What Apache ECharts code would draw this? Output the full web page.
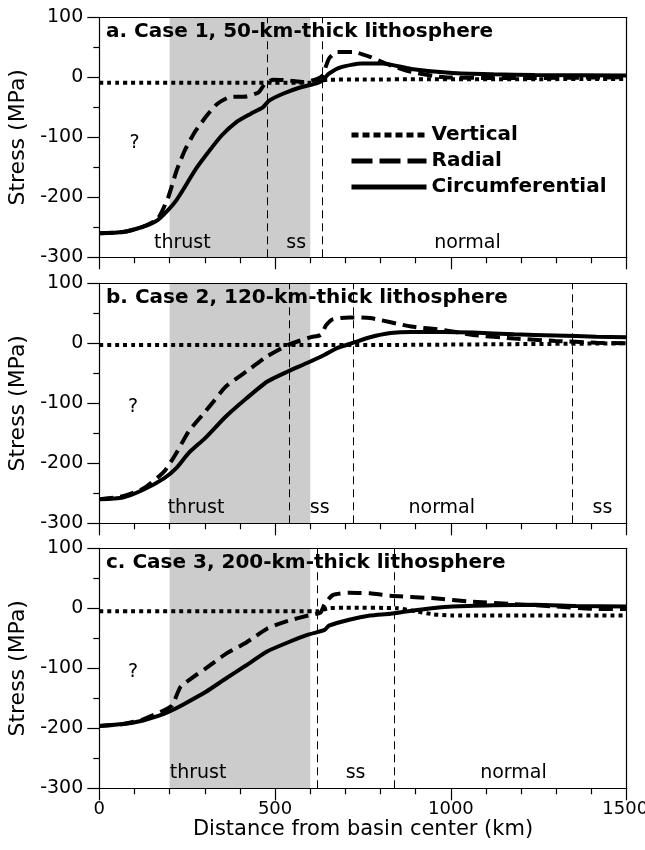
<!DOCTYPE html>
<html>
<head>
<meta charset="utf-8">
<script src="https://cdn.jsdelivr.net/npm/echarts@6/dist/echarts.min.js"></script>
<style>
html,body{margin:0;padding:0;background:#fff;}
#chart{width:645px;height:850px;}
</style>
</head>
<body>
<div id="chart"></div>
<script>
// ---------- DATA ----------
const panelTitles = ['a. Case 1, 50-km-thick lithosphere', 'b. Case 2, 120-km-thick lithosphere', 'c. Case 3, 200-km-thick lithosphere'];
const seriesNames = ['Vertical', 'Radial', 'Circumferential'];

// Panel a
const vertXa = [0, 600, 650, 1500];
const vertYa = [-9, -9, -4, -3];
const radXa = [0, 67, 125, 166, 196, 219, 243, 272, 307, 336, 371, 418, 453, 471, 495, 535, 582, 618, 635, 653, 676, 723, 770, 828, 887, 981, 1121, 1239, 1500];
const radYa = [-260, -258, -249, -236, -200, -157, -122, -91, -63, -44, -33, -32, -25, -11, -4, -5, -8, -3, 3, 31, 42, 42, 34, 20, 9, 0, -1, -1, 0];
const circXa = [0, 67, 125, 166, 196, 219, 243, 272, 307, 348, 389, 430, 465, 483, 524, 571, 618, 635, 653, 688, 746, 805, 887, 1004, 1121, 1239, 1500];
const circYa = [-260, -258, -249, -238, -221, -205, -183, -155, -127, -97, -75, -61, -50, -39, -27, -17, -10, -5, 6, 17, 23, 23, 14, 7, 5, 4, 3];

// Panel b
const vertXb = [0, 700, 1500];
const vertYb = [-3, -3, 0];
const radXb = [0, 67, 125, 184, 219, 254, 301, 325, 360, 418, 477, 536, 600, 630, 645, 664, 711, 770, 887, 981, 1063, 1180, 1297, 1414, 1500];
const radYb = [-260, -255, -242, -214, -183, -147, -114, -97, -72, -47, -22, -3, 10, 14, 30, 40, 43, 42, 28, 22, 14, 8, 4, 1, 0];
const circXb = [0, 67, 125, 184, 219, 254, 301, 360, 418, 477, 536, 594, 641, 676, 723, 770, 828, 887, 981, 1063, 1180, 1297, 1414, 1500];
const circYb = [-260, -257, -244, -225, -208, -183, -158, -122, -92, -64, -47, -32, -19, -8, 1, 10, 17, 19, 19, 18, 15, 13, 11, 10];

// Panel c
const vertXc = [0, 620, 650, 700, 850, 900, 950, 1000, 1500];
const vertYc = [-5, -5, 0, 1, 0, -5, -10, -12, -12];
const radXc = [0, 67, 125, 184, 207, 231, 266, 301, 360, 418, 477, 536, 594, 629, 641, 664, 711, 770, 828, 946, 1063, 1180, 1297, 1414, 1500];
const radYc = [-196, -193, -185, -170, -162, -131, -115, -101, -76, -57, -34, -21, -12, -7, 7, 22, 26, 25, 21, 17, 11, 7, 3, -1, -1];
const circXc = [0, 67, 125, 184, 207, 243, 301, 360, 418, 477, 536, 594, 641, 653, 711, 770, 828, 887, 946, 1004, 1121, 1239, 1356, 1500];
const circYc = [-196, -193, -187, -176, -170, -159, -140, -117, -95, -72, -57, -44, -36, -29, -19, -12, -9, -4, 0, 3, 5, 6, 4, 3];

// Shaded thrust zone (km) and regime boundaries (km)
const shadeRange = [200, 600];
const boundariesA = [478, 635];
const boundariesB = [539, 721, 1346];
const boundariesC = [620, 838];

// Regime labels: [text, km, MPa]
const zoneLabelsA = [['thrust', 236, -277], ['ss', 560, -277], ['normal', 1047, -277], ['?', 100, -109]];
const zoneLabelsB = [['thrust', 275, -275], ['ss', 627, -275], ['normal', 974, -275], ['ss', 1431, -275], ['?', 96, -106]];
const zoneLabelsC = [['thrust', 281, -275], ['ss', 729, -275], ['normal', 1178, -275], ['?', 96, -106]];

const yTicks = [-300, -200, -100, 0, 100];
const xTicks = [0, 500, 1000, 1500];

// ---------- CHART ----------
const FONT = 'DejaVu Sans';
const panels = [
  {vx: vertXa, vy: vertYa, rx: radXa, ry: radYa, cx: circXa, cy: circYa, b: boundariesA, z: zoneLabelsA},
  {vx: vertXb, vy: vertYb, rx: radXb, ry: radYb, cx: circXb, cy: circYb, b: boundariesB, z: zoneLabelsB},
  {vx: vertXc, vy: vertYc, rx: radXc, ry: radYc, cx: circXc, cy: circYc, b: boundariesC, z: zoneLabelsC}
];
const gridTops = [17.3, 283.3, 548.3];
const gridLeft = 99.3, gridWidth = 527.4, gridHeight = 240;
const pair = (xs, ys) => xs.map((x, i) => [x, ys[i]]);
const axisColor = '#000';
const xMax = xTicks[xTicks.length - 1];

const grids = [], xAxes = [], yAxes = [], series = [], titles = [];
panels.forEach((p, i) => {
  grids.push({left: gridLeft, top: gridTops[i], width: gridWidth, height: gridHeight, containLabel: false, outerBoundsMode: 'none'});
  const last = i === 2;
  xAxes.push({
    type: 'value', gridIndex: i, min: xTicks[0], max: xMax, interval: 500, position: 'bottom', z: 10,
    axisLine: {show: true, onZero: false, lineStyle: {color: axisColor, width: 1.2}},
    axisTick: {show: true, length: 12, lineStyle: {color: axisColor, width: 1.2}},
    minorTick: {show: true, splitNumber: 5, length: 6, lineStyle: {color: axisColor, width: 1.2}},
    splitLine: {show: false}, minorSplitLine: {show: false},
    axisLabel: {show: last, fontFamily: FONT, fontSize: 18, color: '#000', margin: 12, hideOverlap: false,
      formatter: v => v === xMax ? '{end|' + v + '}' : String(v),
      rich: {end: {fontFamily: FONT, fontSize: 18, color: '#000', padding: [0, 3, 0, 0]}}},
    name: last ? 'Distance from basin center (km)' : '',
    nameLocation: 'middle', nameGap: 28,
    nameTextStyle: {fontFamily: FONT, fontSize: 21, color: '#000'}
  });
  yAxes.push({
    type: 'value', gridIndex: i, min: yTicks[0], max: yTicks[yTicks.length - 1], interval: 100, position: 'left', z: 10,
    axisLine: {show: true, onZero: false, lineStyle: {color: axisColor, width: 1.2}},
    axisTick: {show: true, length: 12, lineStyle: {color: axisColor, width: 1.2}},
    minorTick: {show: true, splitNumber: 2, length: 6, lineStyle: {color: axisColor, width: 1.2}},
    splitLine: {show: false}, minorSplitLine: {show: false},
    axisLabel: {fontFamily: FONT, fontSize: 19, color: '#000', margin: 16, formatter: v => String(v)},
    name: 'Stress (MPa)', nameLocation: 'middle', nameGap: 58,
    nameTextStyle: {fontFamily: FONT, fontSize: 22, color: '#000'}
  });
  titles.push({
    text: panelTitles[i], left: 106, top: gridTops[i] + 4, padding: 0,
    textStyle: {fontFamily: FONT, fontWeight: 'bold', fontSize: 20, color: '#000'}
  });
});
// frame: top and right border axes
panels.forEach((p, i) => {
  xAxes.push({type: 'value', gridIndex: i, min: 0, max: xMax, position: 'top', z: 10,
    axisLine: {show: true, onZero: false, lineStyle: {color: axisColor, width: 1.2}},
    axisTick: {show: false}, axisLabel: {show: false}, splitLine: {show: false}});
  yAxes.push({type: 'value', gridIndex: i, min: -300, max: 100, position: 'right', z: 10,
    axisLine: {show: true, onZero: false, lineStyle: {color: axisColor, width: 1.2}},
    axisTick: {show: false}, axisLabel: {show: false}, splitLine: {show: false}});
});

panels.forEach((p, i) => {
  series.push({
    type: 'scatter', xAxisIndex: i, yAxisIndex: i, z: 1, silent: true, symbolSize: 0,
    itemStyle: {opacity: 1},
    data: p.z.map(d => ({name: d[0], value: [d[1], d[2]]})),
    label: {show: true, position: 'inside', formatter: '{b}', fontFamily: FONT, fontSize: 19, color: '#000', opacity: 1},
    markArea: {silent: true, itemStyle: {color: '#cccccc', opacity: 1},
      data: [[{xAxis: shadeRange[0]}, {xAxis: shadeRange[1]}]]},
    markLine: {silent: true, symbol: 'none', label: {show: false},
      lineStyle: {color: '#000', width: 1, type: [8, 5], opacity: 1},
      data: p.b.map(v => ({xAxis: v}))}
  });
  const common = {type: 'line', xAxisIndex: i, yAxisIndex: i, showSymbol: false, symbol: 'none', smooth: 0.2, z: 3, silent: true};
  series.push(Object.assign({}, common, {name: seriesNames[0], data: pair(p.vx, p.vy),
    lineStyle: {color: '#000', width: 4, type: [4, 4], cap: 'butt'}}));
  series.push(Object.assign({}, common, {name: seriesNames[1], data: pair(p.rx, p.ry),
    lineStyle: {color: '#000', width: 4, type: [14, 7], cap: 'butt'}}));
  series.push(Object.assign({}, common, {name: seriesNames[2], data: pair(p.cx, p.cy),
    lineStyle: {color: '#000', width: 4, type: 'solid'}}));
});

const chart = echarts.init(document.getElementById('chart'), null, {renderer: 'canvas'});
chart.setOption({
  animation: false,
  backgroundColor: '#fff',
  title: titles,
  grid: grids,
  xAxis: xAxes,
  yAxis: yAxes,
  legend: {
    data: [
      {name: seriesNames[0], lineStyle: {width: 5, type: [7, 4], color: '#000'}},
      {name: seriesNames[1], lineStyle: {width: 5, type: [21, 7], color: '#000'}},
      {name: seriesNames[2], lineStyle: {width: 5, type: 'solid', color: '#000'}}
    ],
    orient: 'vertical', left: 349, top: 125, itemWidth: 75, itemHeight: 14, itemGap: 6,
    padding: 0, selectedMode: false, itemStyle: {opacity: 0},
    textStyle: {fontFamily: FONT, fontWeight: 'bold', fontSize: 20, color: '#000', lineHeight: 20}
  },
  series: series
});
</script>
</body>
</html>
